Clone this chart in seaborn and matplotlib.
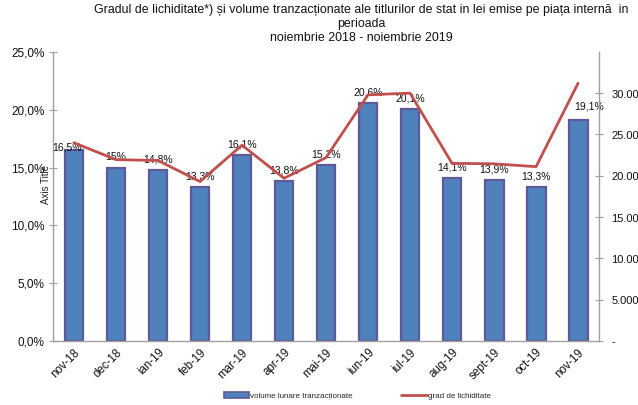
import matplotlib
matplotlib.use("Agg")
import matplotlib.pyplot as plt
import numpy as np
import pandas as pd
import seaborn as sns
from matplotlib.ticker import FuncFormatter, FixedLocator
from matplotlib.patches import Patch
from matplotlib.lines import Line2D

# ---- data ----
categories = ["nov-18", "dec-18", "ian-19", "feb-19", "mar-19", "apr-19", "mai-19",
              "iun-19", "iul-19", "aug-19", "sept-19", "oct-19", "nov-19"]
volume_pct = [16.5, 15.0, 14.8, 13.3, 16.1, 13.8, 15.2, 20.6, 20.1, 14.1, 13.9, 13.3, 19.1]
bar_labels = ["16,5%", "15%", "14,8%", "13,3%", "16,1%", "13,8%", "15,2%",
              "20,6%", "20,1%", "14,1%", "13,9%", "13,3%", "19,1%"]
liquidity = [24000, 21950, 21850, 19300, 23700, 19700, 22200,
             29800, 30000, 21500, 21450, 21100, 31200]
left_ticks = [0, 5, 10, 15, 20, 25]
right_ticks = [0, 5000, 10000, 15000, 20000, 25000, 30000]

title = ("Gradul de lichiditate*) și volume tranzacționate ale titlurilor de stat in lei emise pe piața internă  in\n"
         "perioada\nnoiembrie 2018 - noiembrie 2019")
legend_bar = "volume lunare tranzacționate"
legend_line = "grad de lichiditate"

# ---- style ----
sns.set_theme(style="white")
plt.rcParams["font.family"] = ["Liberation Sans", "DejaVu Sans"]

BAR = "#4F81BD"
BAR_EDGE = "#5E5A9A"
LINE = "#C0504D"
AX = "#A0A0A0"

df = pd.DataFrame({"luna": categories, "volum": volume_pct, "grad": liquidity})

fig = plt.figure(figsize=(6.38, 4.05), dpi=100)
ax = fig.add_axes([0.083, 0.158, 0.856, 0.714])

sns.barplot(data=df, x="luna", y="volum", ax=ax, color=BAR, edgecolor=BAR_EDGE,
            linewidth=1.6, width=0.45, saturation=1)
ax.set_ylim(0, 25)
ax.set_xlim(-0.5, len(categories) - 0.5)
ax.yaxis.set_major_locator(FixedLocator(left_ticks))
ax.yaxis.set_major_formatter(FuncFormatter(lambda v, p: f"{v:.1f}".replace(".", ",") + "%"))
ax.set_xlabel("")
ax.set_ylabel("")
ax.text(-0.013, 0.54, "Axis Title", transform=ax.transAxes, rotation=90,
        ha="center", va="center", fontsize=7, color="#222222")

# data labels
dx = [-5, 0, 0, 0, 0, 0, 0, 0, 0, 0, 0, 0, 8]
dy = [2, 7.5, 7.5, 7.5, 7.5, 7.5, 7.5, 7.5, 7.5, 7.5, 7.5, 7.5, 10]
for i, (v, lbl) in enumerate(zip(volume_pct, bar_labels)):
    ax.annotate(lbl, (i, v), xytext=(dx[i], dy[i]), textcoords="offset points",
                ha="center", va="center", fontsize=7.5, color="#111111", zorder=5)

ax2 = ax.twinx()
sns.lineplot(data=df, x="luna", y="grad", ax=ax2, color=LINE, linewidth=2, sort=False)
ax2.set_ylim(0, 35000)
ax2.yaxis.set_major_locator(FixedLocator(right_ticks))
ax2.yaxis.set_major_formatter(FuncFormatter(
    lambda v, p: "-" if v == 0 else f"{v:,.1f}".replace(",", "X").replace(".", ",").replace("X", ".")))
ax2.set_ylabel("")
ax2.set_xlabel("")

# spines
for s in ["top", "right"]:
    ax.spines[s].set_visible(False)
for s in ["top", "left", "bottom"]:
    ax2.spines[s].set_visible(False)
ax.spines["left"].set_color(AX)
ax.spines["bottom"].set_color(AX)
ax2.spines["right"].set_color(AX)
for s in [ax.spines["left"], ax.spines["bottom"], ax2.spines["right"]]:
    s.set_linewidth(1.0)

# ticks
ax.tick_params(axis="y", which="major", direction="inout", length=6, width=0.8,
               color=AX, labelsize=8.5, labelcolor="#111111", pad=3)
ax.tick_params(axis="x", which="major", length=0, labelsize=8.3, labelcolor="#111111", pad=4)
ax.xaxis.set_minor_locator(FixedLocator(np.arange(-0.5, len(categories), 1.0)))
ax.tick_params(axis="x", which="minor", direction="inout", length=6, width=0.8, color=AX)
plt.setp(ax.get_xticklabels(), rotation=45, ha="right", rotation_mode="anchor")
ax2.tick_params(axis="y", which="major", direction="inout", length=6, width=0.8,
                color=AX, labelsize=8, labelcolor="#111111", pad=6)

fig.text(0.566, 0.99, title, ha="center", va="top", fontsize=8.9, linespacing=1.2,
         color="#111111")

handles = [Patch(facecolor=BAR, edgecolor=BAR_EDGE, linewidth=1.2),
           Line2D([0], [0], color=LINE, linewidth=2)]
fig.legend(handles, [legend_bar, legend_line], loc="lower center",
           bbox_to_anchor=(0.56, -0.005), ncol=2, frameon=False, fontsize=5.8,
           handlelength=3.2, handleheight=0.9, columnspacing=6, handletextpad=0.1)

fig.savefig("out.png", dpi=100, facecolor="white")
